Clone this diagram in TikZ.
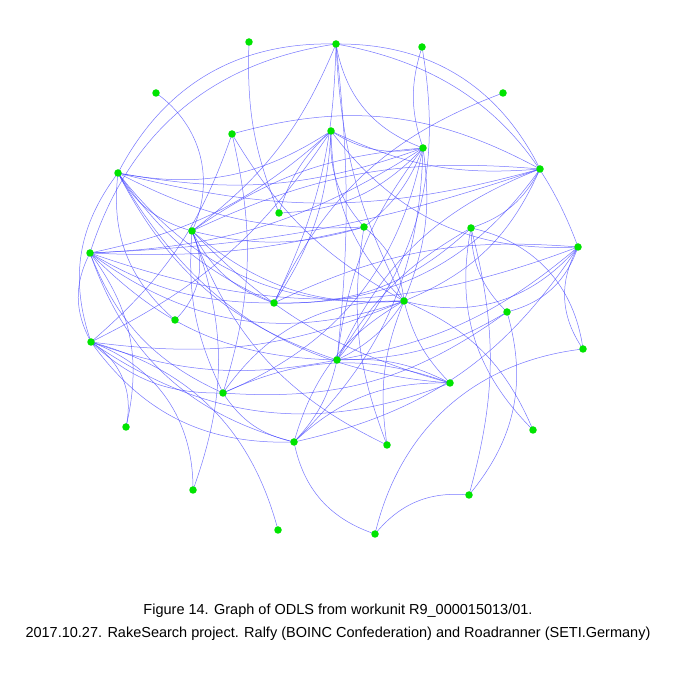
\documentclass[tikz,border=0pt]{standalone}
\usepackage{fontspec}
\setmainfont{Liberation Sans}
\usepackage{xcolor}
\definecolor{noeud}{RGB}{0,228,0}
\definecolor{lien}{RGB}{60,60,255}
\usepackage{tikz}

\begin{document}
\begin{tikzpicture}[x=1pt,y=1pt,
  vtx/.style={circle,fill=noeud,inner sep=0pt,minimum size=7.5pt},
  edge/.style={draw=lien,line width=0.5pt,draw opacity=0.7}
]
\useasboundingbox (0,0) rectangle (675,675);
% ---- sommets ----
\foreach \n/\x/\y in {d1/249/42, d2/336/44, d3/422/47, d4/503/93, d5/156/93,
  d6/232/134, d7/331/131, d8/423/148, d9/540/169, d10/118/173, d11/279/213,
  d12/192/231, d13/364/227, d14/471/228, d15/90/253, d16/578/247, d17/274/303,
  d18/404/301, d19/507/312, d20/175/320, d21/91/342, d22/583/349, d23/337/360,
  d24/450/383, d25/223/393, d26/126/427, d27/294/442, d28/387/445, d29/533/430,
  d30/193/490, d31/469/495, d32/278/530, d33/375/534}{
  \coordinate (\n) at (\x,{675-\y});
}
% ---- aretes ----
\foreach \a/\b/\k in {d10/d2/32, d15/d2/32, d2/d9/32, d2/d16/30, d8/d2/30,
  d2/d12/15, d2/d17/12, d2/d23/6, d2/d18/-12, d1/d11/-12, d5/d12/40, d4/d17/-22,
  d3/d8/-18, d3/d23/25, d26/d21/-35, d26/d15/-25, d30/d21/-35, d30/d12/-20,
  d32/d21/-30, d20/d12/-35, d20/d10/28, d29/d18/-22, d29/d14/28, d31/d19/-28,
  d33/d31/28, d31/d14/-15, d33/d22/35, d27/d33/-30, d22/d16/32, d14/d22/35,
  d28/d18/15, d12/d28/-22, d19/d14/22, d19/d16/-28, d19/d23/15, d19/d25/20,
  d14/d9/-22, d14/d17/22, d14/d23/-15, d16/d15/20, d16/d7/28, d16/d17/-15,
  d16/d23/15, d16/d27/22, d8/d18/15, d7/d18/-22, d9/d18/22, d10/d18/-28,
  d12/d18/-22, d15/d18/-28, d18/d23/15, d25/d18/28, d27/d18/22, d18/d24/-15,
  d18/d16/-32, d9/d23/-22, d23/d24/15, d15/d23/-22, d21/d23/-15, d8/d23/-15,
  d10/d24/-28, d12/d24/-15, d25/d24/22, d27/d24/22, d21/d24/-28, d12/d25/-15,
  d15/d25/-22, d21/d25/-22, d8/d25/28, d25/d27/-22, d6/d25/15, d8/d27/22,
  d21/d27/-28, d15/d27/-28, d23/d27/15, d7/d17/15, d10/d17/-15, d15/d17/-15,
  d12/d17/-22, d9/d17/28, d7/d13/-22, d10/d13/-15, d12/d13/-15, d15/d13/-8,
  d13/d18/22, d8/d13/15, d13/d28/-15, d7/d11/-15, d8/d11/22, d10/d12/-22,
  d8/d12/-15, d9/d12/-15, d10/d8/-15, d10/d9/-15, d10/d7/-22, d21/d10/28,
  d10/d23/-22, d15/d8/-15, d15/d7/-15, d15/d9/-8, d21/d15/28, d21/d7/-15,
  d21/d18/-15, d7/d9/-15, d7/d8/-22, d6/d9/22, d6/d18/-15, d6/d21/15}{
  \draw[edge] (\a) to[bend left=\k] (\b);
}
\foreach \n in {d1,d2,d3,d4,d5,d6,d7,d8,d9,d10,d11,d12,d13,d14,d15,d16,d17,
  d18,d19,d20,d21,d22,d23,d24,d25,d26,d27,d28,d29,d30,d31,d32,d33}{
  \node[vtx] (v\n) at (\n) {};
}
% ---- legende ----
\node[align=center,font=\fontsize{14.5}{23}\selectfont] (legende) at (338,{675-622})
  {Figure 14. Graph of ODLS from workunit R9\_000015013/01.\\
   2017.10.27. RakeSearch project. Ralfy (BOINC Confederation) and Roadranner (SETI.Germany)};
\end{tikzpicture}
\end{document}
